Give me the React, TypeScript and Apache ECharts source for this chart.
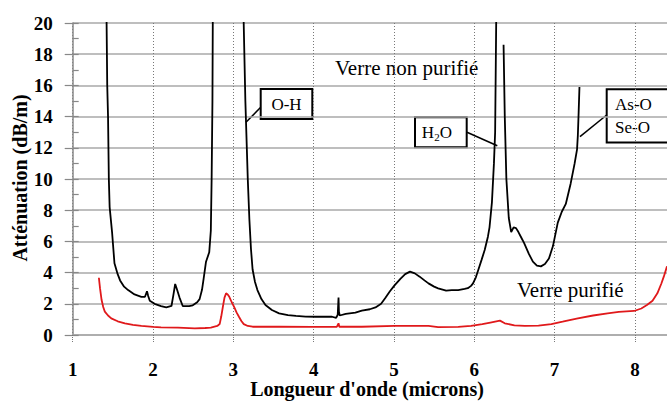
import React, { useEffect, useRef } from "react";
import * as echarts from "echarts";

// Wavelength (microns) and attenuation (dB/m), unpurified glass ("-" = break in trace)
const blackX = [
  1.42, 1.43, 1.44, 1.45, 1.46, 1.475, 1.49, 1.52, 1.56, 1.59, 1.64, 1.69, 1.77, 1.855, 1.9, 1.925, 1.94, 1.96, 2.02, 2.1, 2.165,
  2.23, 2.255, 2.276, 2.3, 2.33, 2.37, 2.45, 2.495, 2.55, 2.58, 2.61, 2.63, 2.66, 2.7, 2.72, 2.73, 2.74, 2.745,
  2.9,
  3.125, 3.15, 3.18, 3.2, 3.22, 3.24, 3.27, 3.3, 3.35, 3.4, 3.48, 3.57, 3.68, 3.78, 3.9, 4.02, 4.15, 4.23, 4.28, 4.3,
  4.31, 4.315, 4.325, 4.4, 4.52, 4.6, 4.7, 4.77, 4.84, 4.89, 4.95, 5.01, 5.08, 5.14, 5.2, 5.26, 5.32, 5.38, 5.43, 5.5,
  5.55, 5.65, 5.72, 5.8, 5.88, 5.92, 5.96, 5.985, 6.02, 6.05, 6.09, 6.13, 6.17, 6.19, 6.22, 6.245, 6.26, 6.275,
  6.32,
  6.365, 6.38, 6.4, 6.43, 6.46, 6.49, 6.52, 6.55, 6.58, 6.62, 6.68, 6.73, 6.78, 6.83, 6.88, 6.93, 6.98, 7.04, 7.09,
  7.14, 7.2, 7.25, 7.28, 7.29, 7.3, 7.31,
];
const blackY: (number | string)[] = [
  21, 16, 14, 10, 8.2, 7.4, 6.6, 4.6, 3.9, 3.5, 3.1, 2.88, 2.6, 2.45, 2.45, 2.8, 2.5, 2.2, 2.0, 1.85, 1.77,
  1.86, 2.6, 3.27, 2.9, 2.4, 1.86, 1.85, 1.9, 2.1, 2.3, 2.9, 3.6, 4.7, 5.3, 6.7, 10, 15, 21,
  "-",
  21, 15, 10, 7.4, 5.5, 4.2, 3.4, 2.88, 2.3, 1.92, 1.6, 1.39, 1.28, 1.22, 1.18, 1.17, 1.17, 1.17, 1.1, 1.3,
  2.4, 1.5, 1.25, 1.35, 1.43, 1.56, 1.65, 1.77, 2.0, 2.35, 2.8, 3.2, 3.6, 3.9, 4.06, 3.95, 3.74, 3.5, 3.31, 3.1,
  2.99, 2.84, 2.88, 2.88, 2.95, 3.0, 3.15, 3.31, 3.7, 4.17, 4.8, 5.45, 6.3, 6.9, 8.5, 11, 13, 21,
  "-",
  18.6, 14, 10, 7.5, 6.6, 6.9, 6.85, 6.6, 6.3, 5.9, 5.2, 4.7, 4.45, 4.4, 4.55, 4.9, 5.7, 7.2, 7.9,
  8.4, 9.7, 11.0, 11.9, 12.8, 14.3, 15.9,
];

// Purified glass
const redX = [
  1.326, 1.34, 1.36, 1.38, 1.4, 1.44, 1.48, 1.56, 1.65, 1.75, 1.855, 2.0, 2.1, 2.31, 2.52, 2.65, 2.72, 2.8, 2.83, 2.85,
  2.87, 2.89, 2.91, 2.93, 2.95, 2.98, 3.01, 3.04, 3.07, 3.1, 3.13, 3.18, 3.24, 3.57, 3.98, 4.29, 4.31, 4.32, 4.6, 5.01,
  5.43, 5.55, 5.8, 5.96, 6.1, 6.2, 6.32, 6.38, 6.5, 6.63, 6.8, 6.96, 7.1, 7.29, 7.48, 7.66, 7.8, 7.99, 8.08, 8.15,
  8.22, 8.28, 8.33, 8.36, 8.4,
];
const redY = [
  3.67, 3.0, 2.24, 1.8, 1.5, 1.25, 1.07, 0.88, 0.75, 0.65, 0.58, 0.52, 0.49, 0.47, 0.43, 0.45, 0.47, 0.58, 0.7, 1.2,
  1.81, 2.4, 2.67, 2.6, 2.45, 2.1, 1.8, 1.45, 1.17, 0.9, 0.7, 0.58, 0.53, 0.53, 0.52, 0.53, 0.75, 0.53, 0.53, 0.58,
  0.58, 0.5, 0.52, 0.58, 0.7, 0.8, 0.92, 0.75, 0.62, 0.58, 0.6, 0.7, 0.85, 1.07, 1.25, 1.39, 1.48, 1.54, 1.7, 1.92,
  2.2, 2.67, 3.3, 3.74, 4.4,
];

const FONT = "'Liberation Serif', 'Times New Roman', serif";

export default function App() {
  const ref = useRef<HTMLDivElement>(null);
  useEffect(() => {
    const chart = echarts.init(ref.current!, null, { renderer: "svg" });
    const black = blackX.map((x, i) => [x, blackY[i]]);
    const red = redX.map((x, i) => [x, redY[i]]);
    const gridGray = "#a9a9a9";
    chart.setOption({
      animation: false,
      backgroundColor: "#ffffff",
      grid: { left: 72.7, right: -2.9, top: 23, bottom: 66, containLabel: false },
      xAxis: {
        type: "value",
        min: 1,
        max: 8.4,
        interval: 1,
        axisLine: { show: true, lineStyle: { color: gridGray, width: 1.5 } },
        axisTick: { show: true, length: 7, lineStyle: { color: "#777", type: "dotted" } },
        axisLabel: {
          show: true,
          showMaxLabel: false,
          margin: 25,
          color: "#000",
          fontFamily: FONT,
          fontWeight: "bold",
          fontSize: 19,
        },
        splitLine: { show: true, lineStyle: { color: "#777", type: [1, 2], width: 1 } },
      },
      yAxis: [
        {
          type: "value",
          min: 0,
          max: 20,
          interval: 2,
          position: "left",
          axisLine: { show: true, onZero: false, lineStyle: { color: "#888", width: 1.5 } },
          axisTick: { show: true, length: 8, lineStyle: { color: "#888", width: 1.2 } },
          axisLabel: {
            margin: 20,
            color: "#000",
            fontFamily: FONT,
            fontWeight: "bold",
            fontSize: 19,
          },
          splitLine: { show: true, lineStyle: { color: gridGray, width: 1.5 } },
        },
        {
          type: "value",
          min: 0,
          max: 20,
          interval: 1,
          position: "left",
          axisLine: { show: false },
          axisTick: { show: true, inside: true, length: 6, lineStyle: { color: "#888", width: 1.2 } },
          axisLabel: { show: false },
          splitLine: { show: false },
        },
      ],
      series: [
        {
          type: "line",
          data: black,
          yAxisIndex: 0,
          showSymbol: false,
          symbol: "none",
          clip: true,
          connectNulls: false,
          lineStyle: { color: "#000", width: 1.8 },
        },
        {
          type: "line",
          data: red,
          yAxisIndex: 0,
          showSymbol: false,
          symbol: "none",
          clip: true,
          lineStyle: { color: "#e0191b", width: 1.8 },
        },
      ],
      graphic: [
        {
          type: "text",
          x: 20,
          y: 178,
          rotation: Math.PI / 2,
          style: {
            text: "Atténuation (dB/m)",
            font: `bold 20px ${FONT}`,
            fill: "#000",
            align: "center",
            verticalAlign: "middle",
          },
        },
        {
          type: "text",
          x: 367,
          y: 389,
          style: {
            text: "Longueur d'onde (microns)",
            font: `bold 20px ${FONT}`,
            fill: "#000",
            align: "center",
            verticalAlign: "middle",
          },
        },
        {
          type: "text",
          x: 335,
          y: 68,
          style: { text: "Verre non purifié", font: `21px ${FONT}`, fill: "#000", align: "left", verticalAlign: "middle" },
        },
        {
          type: "text",
          x: 517,
          y: 290,
          style: { text: "Verre purifié", font: `21px ${FONT}`, fill: "#000", align: "left", verticalAlign: "middle" },
        },
        // O-H label
        {
          type: "line",
          shape: { x1: 246, y1: 122.3, x2: 260.7, y2: 107.3 },
          style: { stroke: "#000", lineWidth: 1.5 },
        },
        {
          type: "rect",
          shape: { x: 260.7, y: 89, width: 51.6, height: 30 },
          style: { fill: "#fff", stroke: "#000", lineWidth: 2 },
        },
        {
          type: "text",
          x: 286.5,
          y: 104.3,
          style: { text: "O-H", font: `17px ${FONT}`, fill: "#000", align: "center", verticalAlign: "middle" },
        },
        // H2O label
        {
          type: "line",
          shape: { x1: 467, y1: 132.3, x2: 497.3, y2: 145.7 },
          style: { stroke: "#000", lineWidth: 1.5 },
        },
        {
          type: "rect",
          shape: { x: 415, y: 117.3, width: 51.7, height: 30 },
          style: { fill: "#fff", stroke: "#000", lineWidth: 2 },
        },
        {
          type: "text",
          x: 421.7,
          y: 132.5,
          style: { text: "H", font: `17px ${FONT}`, fill: "#000", align: "left", verticalAlign: "middle" },
        },
        {
          type: "text",
          x: 434.3,
          y: 137,
          style: { text: "2", font: `11px ${FONT}`, fill: "#000", align: "left", verticalAlign: "middle" },
        },
        {
          type: "text",
          x: 439.8,
          y: 132.5,
          style: { text: "O", font: `17px ${FONT}`, fill: "#000", align: "left", verticalAlign: "middle" },
        },
        // As-O / Se-O label
        {
          type: "line",
          shape: { x1: 580, y1: 136.7, x2: 606.7, y2: 115 },
          style: { stroke: "#000", lineWidth: 1.5 },
        },
        {
          type: "rect",
          shape: { x: 606.7, y: 89.3, width: 70, height: 53.3 },
          style: { fill: "#fff", stroke: "#000", lineWidth: 2 },
        },
        {
          type: "text",
          x: 615,
          y: 104.3,
          style: { text: "As-O", font: `17px ${FONT}`, fill: "#000", align: "left", verticalAlign: "middle" },
        },
        {
          type: "text",
          x: 615,
          y: 127,
          style: { text: "Se-O", font: `17px ${FONT}`, fill: "#000", align: "left", verticalAlign: "middle" },
        },
      ],
    });
    return () => chart.dispose();
  }, []);
  return (
    <div
      ref={ref}
      style={{ position: "fixed", left: 0, top: 0, width: 667, height: 401, background: "#fff" }}
    />
  );
}
